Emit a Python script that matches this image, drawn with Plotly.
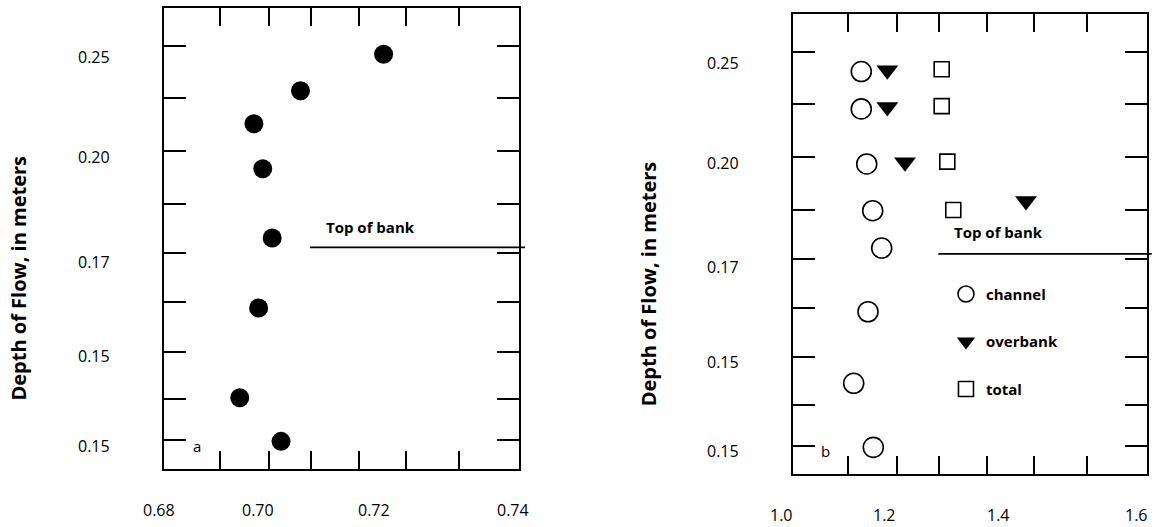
import plotly.graph_objects as go

# ---------------- data ----------------
# panel a
RATIO_A = [0.7181, 0.7040, 0.6961, 0.6976, 0.6992, 0.6969, 0.6937, 0.7007]
DEPTH_A = [0.2481, 0.2388, 0.2304, 0.2190, 0.2014, 0.1836, 0.1608, 0.1497]

# panel b
CHANNEL_X = [1.1345, 1.1345, 1.1437, 1.1538, 1.1690, 1.1459, 1.1217, 1.1548]
CHANNEL_DEPTH = [0.2452, 0.2357, 0.2217, 0.2098, 0.2003, 0.1841, 0.1659, 0.1496]
OVERBANK_X = [1.1785, 1.1785, 1.2084, 1.4129]
OVERBANK_DEPTH = [0.2455, 0.2362, 0.2221, 0.2123]
TOTAL_X = [1.2704, 1.2704, 1.2799, 1.2900]
TOTAL_DEPTH = [0.2458, 0.2364, 0.2223, 0.2100]

# top of bank
BANK_DEPTH_A = 0.1990
BANK_X_A = [0.70561, 0.74209]
BANK_DEPTH_B = 0.1988
BANK_X_B = [1.2647, 1.6254]

# axes / ticks
Y_RANGE = [0.14275, 0.25984]
XA_RANGE = [0.680899, 0.741018]
XB_RANGE = [1.01910, 1.61690]
Y_TICKS = [0.2501, 0.2370, 0.2235, 0.2100, 0.1976, 0.1850, 0.1725, 0.1605, 0.1500]
XA_TICKS = [0.69035, 0.69866, 0.70573, 0.71398, 0.72185, 0.73094]
XB_TICKS = [1.11256, 1.19538, 1.26586, 1.34782, 1.42591, 1.51600]
Y_LABEL_POS = [0.2474, 0.2220, 0.1954, 0.1714, 0.1486]
Y_LABEL_TEXT = ["0.25", "0.20", "0.17", "0.15", "0.15"]
XA_LABEL_POS = [0.68, 0.69674, 0.71647, 0.74]
XA_LABEL_TEXT = ["0.68", "0.70", "0.72", "0.74"]
XB_LABEL_POS = [1.0, 1.17341, 1.36608, 1.6]
XB_LABEL_TEXT = ["1.0", "1.2", "1.4", "1.6"]

Y_TITLE = "Depth of Flow, in meters"
FONT = "Open Sans"

fig = go.Figure()

fig.add_trace(go.Scatter(
    x=RATIO_A, y=DEPTH_A, mode="markers", xaxis="x", yaxis="y",
    marker=dict(symbol="circle", size=19, color="black"), showlegend=False,
    cliponaxis=False))

fig.add_trace(go.Scatter(
    x=CHANNEL_X, y=CHANNEL_DEPTH, mode="markers", xaxis="x2", yaxis="y2",
    name="channel", legendgroup="g1",
    marker=dict(symbol="circle-open", size=20, color="black", line=dict(width=1.6)),
    cliponaxis=False))
fig.add_trace(go.Scatter(
    x=OVERBANK_X, y=OVERBANK_DEPTH, mode="markers", xaxis="x2", yaxis="y2",
    name="overbank", legendgroup="g2",
    marker=dict(symbol="triangle-down", size=19, color="black"),
    cliponaxis=False))
fig.add_trace(go.Scatter(
    x=TOTAL_X, y=TOTAL_DEPTH, mode="markers", xaxis="x2", yaxis="y2",
    name="total", legendgroup="g3",
    marker=dict(symbol="square-open", size=15, color="black", line=dict(width=1.6)),
    cliponaxis=False))

common_ax = dict(showgrid=False, zeroline=False, showline=True, linecolor="black",
                 linewidth=2, mirror="ticks", ticks="inside", tickcolor="black",
                 tickwidth=2, showticklabels=False)

fig.update_layout(
    width=1160, height=527,
    margin=dict(l=0, r=0, t=0, b=0),
    paper_bgcolor="white", plot_bgcolor="white",
    font=dict(family=FONT, color="black", size=16),
    xaxis=dict(domain=[0.14164, 0.44716], range=XA_RANGE, tickvals=XA_TICKS,
               ticklen=18, anchor="y", **common_ax),
    yaxis=dict(domain=[0.11063, 0.98482], range=Y_RANGE, tickvals=Y_TICKS,
               ticklen=22, anchor="x", **common_ax),
    xaxis2=dict(domain=[0.68362, 0.98853], range=XB_RANGE, tickvals=XB_TICKS,
                ticklen=18, anchor="y2", **common_ax),
    yaxis2=dict(domain=[0.10000, 0.97343], range=Y_RANGE, tickvals=Y_TICKS,
                ticklen=22, anchor="x2", **common_ax),
    showlegend=True,
    legend=dict(x=0.8155, y=0.4730, xanchor="left", yanchor="top",
                bgcolor="rgba(0,0,0,0)", traceorder="grouped", tracegroupgap=25,
                font=dict(family=FONT, size=15, color="black", weight="bold")),
)


def dom(v, rng):
    return (v - rng[0]) / (rng[1] - rng[0])


annotations = []
for xr, yr, xrng, xlab_pos, xlab_txt in (("x", "y", XA_RANGE, XA_LABEL_POS, XA_LABEL_TEXT),
                                         ("x2", "y2", XB_RANGE, XB_LABEL_POS, XB_LABEL_TEXT)):
    for p, t in zip(Y_LABEL_POS, Y_LABEL_TEXT):
        annotations.append(dict(text=t, xref=xr + " domain", x=-0.147, xanchor="right",
                                yref=yr, y=p, yanchor="middle", showarrow=False,
                                font=dict(size=16)))
    for p, t in zip(xlab_pos, xlab_txt):
        annotations.append(dict(text=t, xref=xr + " domain", x=dom(p, xrng), xanchor="center",
                                yref=yr + " domain", y=-0.089, yanchor="middle",
                                showarrow=False, font=dict(size=16)))
    annotations.append(dict(text="<b>" + Y_TITLE + "</b>", textangle=-90,
                            xref=xr + " domain", x=-0.41, xanchor="center",
                            yref=yr + " domain", y=0.415, yanchor="middle",
                            showarrow=False, font=dict(size=20)))

annotations += [
    dict(text="<b>Top of bank</b>", xref="x", x=0.70804, xanchor="left",
         yref="y", y=0.2042, yanchor="middle", showarrow=False, font=dict(size=15)),
    dict(text="<b>Top of bank</b>", xref="x2", x=1.2873, xanchor="left",
         yref="y2", y=0.2043, yanchor="middle", showarrow=False, font=dict(size=15)),
    dict(text="a", xref="x", x=0.68640, xanchor="center", yref="y", y=0.1486,
         yanchor="middle", showarrow=False, font=dict(size=15)),
    dict(text="b", xref="x2", x=1.07437, xanchor="center", yref="y2", y=0.1486,
         yanchor="middle", showarrow=False, font=dict(size=15)),
]
fig.update_layout(annotations=annotations)

fig.add_shape(type="line", xref="x domain", yref="y",
              x0=dom(BANK_X_A[0], XA_RANGE), x1=dom(BANK_X_A[1], XA_RANGE),
              y0=BANK_DEPTH_A, y1=BANK_DEPTH_A, line=dict(color="black", width=1.8))
fig.add_shape(type="line", xref="x2 domain", yref="y2",
              x0=dom(BANK_X_B[0], XB_RANGE), x1=dom(BANK_X_B[1], XB_RANGE),
              y0=BANK_DEPTH_B, y1=BANK_DEPTH_B, line=dict(color="black", width=1.8))

fig.write_html("out.html", config={"displayModeBar": False},
               post_script="document.body.style.margin='0';")
